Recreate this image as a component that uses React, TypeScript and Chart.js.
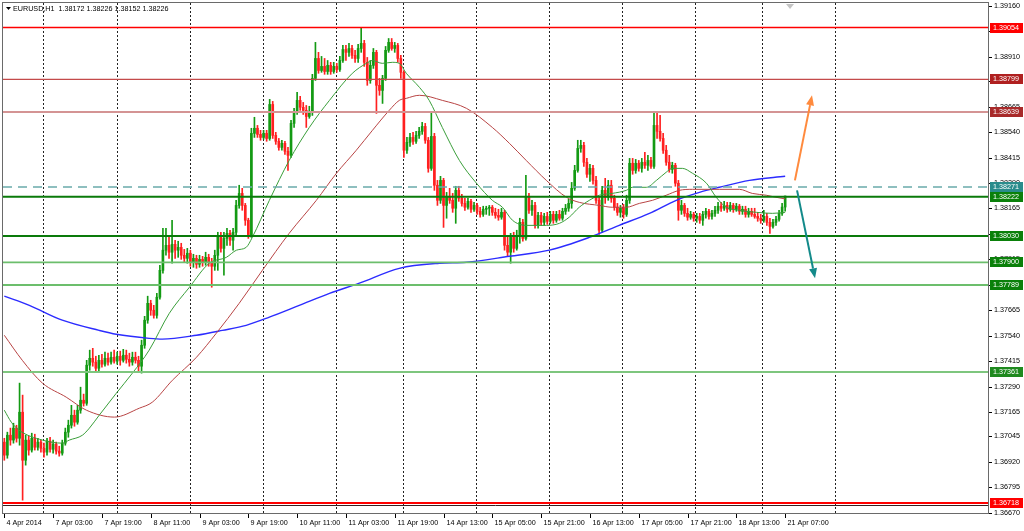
import React, { useEffect, useRef } from "react";
import { Chart, registerables } from "chart.js";

Chart.register(...registerables);

// ---- candle data (EURUSD H1), one entry per hourly bar ----
const opens = [
1.37017,1.36953,1.37051,1.37027,1.37086,1.37036,1.37164,1.36928,1.37027,1.36978,
1.37036,1.36992,1.37017,1.36987,1.36968,1.37022,1.36982,1.37007,1.36973,1.36963,
1.37012,1.37066,1.37100,1.37149,1.37115,1.37174,1.37223,1.37208,1.37395,1.37429,
1.37410,1.37380,1.37419,1.37400,1.37429,1.37410,1.37434,1.37415,1.37439,1.37419,
1.37444,1.37424,1.37410,1.37434,1.37419,1.37390,1.37493,1.37616,1.37699,1.37665,
1.37640,1.37729,1.37861,1.37960,1.37984,1.37950,1.37989,1.37960,1.37974,1.37935,
1.37920,1.37945,1.37901,1.37920,1.37891,1.37915,1.37901,1.37925,1.37901,1.37881,
1.37935,1.38033,1.37969,1.38018,1.38043,1.38009,1.38048,1.38180,1.38239,1.38180,
1.38107,1.38033,1.38534,1.38559,1.38529,1.38514,1.38534,1.38509,1.38676,1.38524,
1.38495,1.38465,1.38485,1.38446,1.38426,1.38583,1.38637,1.38696,1.38662,1.38647,
1.38617,1.38637,1.38804,1.38902,1.38843,1.38863,1.38838,1.38868,1.38838,1.38863,
1.38848,1.38892,1.38946,1.38932,1.38951,1.38917,1.38902,1.38951,1.38976,1.38883,
1.38794,1.38868,1.38932,1.38770,1.38745,1.38804,1.38942,1.38981,1.38951,1.38966,
1.38902,1.38834,1.38451,1.38490,1.38514,1.38495,1.38524,1.38544,1.38568,1.38500,
1.38362,1.38519,1.38279,1.38205,1.38303,1.38180,1.38225,1.38205,1.38166,1.38254,
1.38215,1.38190,1.38171,1.38200,1.38161,1.38180,1.38151,1.38136,1.38161,1.38166,
1.38171,1.38146,1.38131,1.38122,1.38146,1.37984,1.37950,1.38023,1.37969,1.38033,
1.38097,1.38018,1.38225,1.38156,1.38180,1.38082,1.38131,1.38097,1.38126,1.38102,
1.38136,1.38107,1.38136,1.38117,1.38151,1.38166,1.38190,1.38264,1.38352,1.38460,
1.38475,1.38392,1.38333,1.38362,1.38303,1.38205,1.38058,1.38254,1.38220,1.38279,
1.38215,1.38171,1.38146,1.38166,1.38136,1.38205,1.38387,1.38352,1.38387,1.38362,
1.38392,1.38377,1.38401,1.38372,1.38573,1.38544,1.38509,1.38451,1.38392,1.38357,
1.38377,1.38289,1.38156,1.38180,1.38141,1.38122,1.38136,1.38117,1.38126,1.38107,
1.38136,1.38151,1.38126,1.38141,1.38156,1.38176,1.38166,1.38180,1.38161,1.38180,
1.38161,1.38176,1.38151,1.38161,1.38136,1.38151,1.38136,1.38126,1.38117,1.38107,
1.38126,1.38097,1.38077,1.38097,1.38112,1.38141,1.38172
];
const highs = [
1.37036,1.37066,1.37086,1.37110,1.37100,1.37307,1.37248,1.37051,1.37046,1.37061,
1.37056,1.37036,1.37027,1.37012,1.37036,1.37041,1.37027,1.37017,1.36997,1.37027,
1.37086,1.37125,1.37198,1.37174,1.37198,1.37287,1.37253,1.37419,1.37469,1.37478,
1.37439,1.37444,1.37449,1.37459,1.37454,1.37459,1.37469,1.37459,1.37464,1.37473,
1.37469,1.37454,1.37459,1.37459,1.37439,1.37518,1.37635,1.37734,1.37714,1.37689,
1.37748,1.37886,1.38067,1.38067,1.38028,1.38107,1.38009,1.38004,1.37994,1.37964,
1.37969,1.37960,1.37940,1.37935,1.37935,1.37930,1.37950,1.37940,1.37920,1.37960,
1.38048,1.38048,1.38048,1.38068,1.38058,1.38068,1.38205,1.38279,1.38264,1.38190,
1.38117,1.38559,1.38613,1.38573,1.38549,1.38549,1.38549,1.38701,1.38691,1.38539,
1.38509,1.38500,1.38495,1.38465,1.38598,1.38657,1.38735,1.38716,1.38686,1.38671,
1.38667,1.38824,1.38981,1.38932,1.38912,1.38902,1.38892,1.38883,1.38883,1.38878,
1.38912,1.38966,1.38966,1.38976,1.38966,1.38942,1.38971,1.39050,1.38991,1.38907,
1.38892,1.38951,1.38942,1.38804,1.38819,1.38961,1.39000,1.39000,1.38981,1.38976,
1.38917,1.38843,1.38514,1.38534,1.38539,1.38544,1.38563,1.38588,1.38583,1.38514,
1.38637,1.38534,1.38303,1.38323,1.38313,1.38244,1.38264,1.38239,1.38274,1.38274,
1.38235,1.38215,1.38215,1.38210,1.38195,1.38190,1.38171,1.38176,1.38176,1.38180,
1.38180,1.38166,1.38161,1.38166,1.38156,1.38033,1.38043,1.38048,1.38058,1.38117,
1.38112,1.38328,1.38239,1.38205,1.38195,1.38146,1.38146,1.38141,1.38146,1.38151,
1.38151,1.38151,1.38156,1.38166,1.38185,1.38210,1.38293,1.38377,1.38500,1.38500,
1.38490,1.38411,1.38382,1.38377,1.38323,1.38220,1.38274,1.38313,1.38303,1.38303,
1.38230,1.38190,1.38180,1.38185,1.38230,1.38411,1.38411,1.38406,1.38401,1.38411,
1.38441,1.38426,1.38416,1.38637,1.38637,1.38622,1.38534,1.38475,1.38426,1.38392,
1.38387,1.38303,1.38205,1.38190,1.38166,1.38151,1.38146,1.38141,1.38141,1.38151,
1.38166,1.38161,1.38156,1.38176,1.38195,1.38195,1.38200,1.38195,1.38195,1.38190,
1.38190,1.38185,1.38176,1.38176,1.38166,1.38166,1.38166,1.38146,1.38136,1.38156,
1.38141,1.38117,1.38112,1.38126,1.38156,1.38190,1.38226
];
const lows = [
1.36928,1.36938,1.37002,1.37012,1.37017,1.37002,1.36732,1.36904,1.36953,1.36968,
1.36978,1.36978,1.36968,1.36943,1.36953,1.36968,1.36963,1.36958,1.36948,1.36953,
1.37002,1.37041,1.37086,1.37095,1.37105,1.37159,1.37194,1.37198,1.37370,1.37390,
1.37361,1.37365,1.37385,1.37390,1.37395,1.37400,1.37405,1.37400,1.37395,1.37410,
1.37405,1.37390,1.37395,1.37405,1.37361,1.37356,1.37478,1.37601,1.37640,1.37626,
1.37626,1.37719,1.37847,1.37935,1.37920,1.37896,1.37920,1.37925,1.37915,1.37901,
1.37896,1.37881,1.37876,1.37871,1.37876,1.37881,1.37886,1.37881,1.37778,1.37861,
1.37861,1.37950,1.37837,1.37984,1.37984,1.37960,1.38033,1.38166,1.38156,1.38082,
1.38018,1.38023,1.38514,1.38514,1.38500,1.38505,1.38495,1.38500,1.38509,1.38480,
1.38451,1.38451,1.38431,1.38352,1.38416,1.38563,1.38627,1.38647,1.38627,1.38563,
1.38608,1.38622,1.38794,1.38829,1.38834,1.38824,1.38824,1.38824,1.38829,1.38834,
1.38838,1.38883,1.38892,1.38912,1.38902,1.38883,1.38883,1.38932,1.38863,1.38770,
1.38780,1.38853,1.38632,1.38721,1.38681,1.38794,1.38932,1.38942,1.38932,1.38883,
1.38804,1.38416,1.38436,1.38470,1.38480,1.38485,1.38509,1.38529,1.38485,1.38343,
1.38352,1.38254,1.38180,1.38190,1.38072,1.38117,1.38190,1.38146,1.38092,1.38200,
1.38176,1.38156,1.38161,1.38146,1.38151,1.38136,1.38122,1.38126,1.38136,1.38131,
1.38131,1.38117,1.38107,1.38112,1.37960,1.37930,1.37896,1.37950,1.37960,1.37994,
1.38004,1.38009,1.38141,1.38131,1.38068,1.38068,1.38082,1.38082,1.38087,1.38092,
1.38092,1.38097,1.38107,1.38107,1.38136,1.38151,1.38166,1.38254,1.38343,1.38441,
1.38372,1.38318,1.38298,1.38284,1.38190,1.38038,1.38048,1.38190,1.38205,1.38195,
1.38156,1.38131,1.38122,1.38117,1.38126,1.38190,1.38333,1.38338,1.38348,1.38343,
1.38362,1.38352,1.38362,1.38362,1.38509,1.38495,1.38436,1.38377,1.38343,1.38338,
1.38274,1.38107,1.38136,1.38126,1.38107,1.38112,1.38102,1.38097,1.38092,1.38082,
1.38117,1.38112,1.38112,1.38126,1.38141,1.38151,1.38156,1.38146,1.38151,1.38146,
1.38151,1.38136,1.38136,1.38122,1.38122,1.38126,1.38117,1.38102,1.38092,1.38097,
1.38082,1.38043,1.38068,1.38082,1.38102,1.38131,1.38152
];
const closes = [
1.36953,1.37051,1.37027,1.37086,1.37036,1.37164,1.36928,1.37027,1.36978,1.37036,
1.36992,1.37017,1.36987,1.36968,1.37022,1.36982,1.37007,1.36973,1.36963,1.37012,
1.37066,1.37100,1.37149,1.37115,1.37174,1.37223,1.37208,1.37395,1.37429,1.37410,
1.37380,1.37419,1.37400,1.37429,1.37410,1.37434,1.37415,1.37439,1.37419,1.37444,
1.37424,1.37410,1.37434,1.37419,1.37390,1.37493,1.37616,1.37699,1.37665,1.37640,
1.37729,1.37861,1.37960,1.37984,1.37950,1.37989,1.37960,1.37974,1.37935,1.37920,
1.37945,1.37901,1.37920,1.37891,1.37915,1.37901,1.37925,1.37901,1.37881,1.37935,
1.38033,1.37969,1.38018,1.38043,1.38009,1.38048,1.38180,1.38239,1.38180,1.38107,
1.38033,1.38534,1.38559,1.38529,1.38514,1.38534,1.38509,1.38676,1.38524,1.38495,
1.38465,1.38485,1.38446,1.38426,1.38583,1.38637,1.38696,1.38662,1.38647,1.38617,
1.38637,1.38804,1.38902,1.38843,1.38863,1.38838,1.38868,1.38838,1.38863,1.38848,
1.38892,1.38946,1.38932,1.38951,1.38917,1.38902,1.38951,1.38976,1.38883,1.38794,
1.38868,1.38932,1.38770,1.38745,1.38804,1.38942,1.38981,1.38951,1.38966,1.38902,
1.38834,1.38451,1.38490,1.38514,1.38495,1.38524,1.38544,1.38568,1.38500,1.38362,
1.38519,1.38279,1.38205,1.38303,1.38180,1.38225,1.38205,1.38166,1.38254,1.38215,
1.38190,1.38171,1.38200,1.38161,1.38180,1.38151,1.38136,1.38161,1.38166,1.38171,
1.38146,1.38131,1.38122,1.38146,1.37984,1.37950,1.38023,1.37969,1.38033,1.38097,
1.38018,1.38225,1.38156,1.38180,1.38082,1.38131,1.38097,1.38126,1.38102,1.38136,
1.38107,1.38136,1.38117,1.38151,1.38166,1.38190,1.38264,1.38352,1.38460,1.38475,
1.38392,1.38333,1.38362,1.38303,1.38205,1.38058,1.38254,1.38220,1.38279,1.38215,
1.38171,1.38146,1.38166,1.38136,1.38205,1.38387,1.38352,1.38387,1.38362,1.38392,
1.38377,1.38401,1.38372,1.38573,1.38544,1.38509,1.38451,1.38392,1.38357,1.38377,
1.38289,1.38156,1.38180,1.38141,1.38122,1.38136,1.38117,1.38126,1.38107,1.38136,
1.38151,1.38126,1.38141,1.38156,1.38176,1.38166,1.38180,1.38161,1.38180,1.38161,
1.38176,1.38151,1.38161,1.38136,1.38151,1.38136,1.38126,1.38117,1.38107,1.38126,
1.38097,1.38077,1.38097,1.38112,1.38141,1.38172,1.38226
];

// ---- moving averages (read at sample bars) ----
const fastMaBars = [0,2.3,4.9,12.5,19,21.3,25.6,27.9,31.1,36.7,42,47.5,54.1,60.7,67.2,72.8,76.1,79.3,81.3,86.9,93.4,100,106.6,114.1,118.7,120.7,123.9,127.2,129.5,131.8,136.1,139.3,143.6,149.2,154.8,160,163.3,166.6,171.1,177.7,182,185.2,188.5,191.8,195.1,199.3,203.9,205.9,210.5,213.8,217,219,222.3,225.6,230.2,233.4,236.7,241,246.6,251.8,256];
const fastMaValues = [1.37174,1.37115,1.37075,1.37027,1.37012,1.37027,1.37051,1.37086,1.37149,1.37257,1.37356,1.37469,1.37650,1.37778,1.37896,1.37925,1.37960,1.37974,1.38023,1.38205,1.38401,1.38563,1.38696,1.38829,1.38878,1.38892,1.38878,1.38883,1.38878,1.38829,1.38760,1.38696,1.38563,1.38401,1.38289,1.38205,1.38171,1.38107,1.38082,1.38082,1.38092,1.38122,1.38171,1.38205,1.38230,1.38239,1.38254,1.38269,1.38269,1.38303,1.38343,1.38362,1.38362,1.38338,1.38289,1.38220,1.38171,1.38156,1.38146,1.38141,1.38146];
const midMaBars = [0,5.9,12.5,20.3,26.9,36.1,44.3,48.5,55.1,63,69.5,77,84.6,93.4,102.3,108.9,115.4,120.7,126.2,129.5,131.8,136.1,143.6,151.5,160,165.6,171.1,177.7,184.3,188.5,195.1,199.3,203.9,208.2,212.5,217,221.3,225.6,234.4,241,245.2,249.8,253,256];
const midMaValues = [1.37542,1.37419,1.37307,1.37238,1.37174,1.37140,1.37184,1.37213,1.37321,1.37434,1.37552,1.37699,1.37861,1.38043,1.38205,1.38338,1.38451,1.38549,1.38647,1.38696,1.38706,1.38721,1.38696,1.38657,1.38563,1.38485,1.38401,1.38303,1.38220,1.38195,1.38180,1.38171,1.38171,1.38190,1.38205,1.38230,1.38254,1.38259,1.38259,1.38259,1.38239,1.38230,1.38220,1.38212];
const slowMaBars = [0,8.2,19,31.1,36.7,47.5,51.8,63,71.5,79.3,86.9,96.7,106.6,116.4,129.5,142.6,151.5,165.6,178.7,191.8,201.6,211.5,220.3,227.9,234.4,244.3,256];
const slowMaValues = [1.37734,1.37689,1.37616,1.37566,1.37547,1.37527,1.37523,1.37542,1.37566,1.37591,1.37631,1.37689,1.37748,1.37798,1.37871,1.37896,1.37901,1.37930,1.37960,1.38023,1.38082,1.38141,1.38205,1.38244,1.38269,1.38303,1.38323];

// ---- axes ----
const timeLabels = ["4 Apr 2014","7 Apr 03:00","7 Apr 19:00","8 Apr 11:00","9 Apr 03:00","9 Apr 19:00","10 Apr 11:00","11 Apr 03:00","11 Apr 19:00","14 Apr 13:00","15 Apr 05:00","15 Apr 21:00","16 Apr 13:00","17 Apr 05:00","17 Apr 21:00","18 Apr 13:00","21 Apr 07:00"];
const barsPerLabel = 16;
const priceTicks = [1.39160,1.39035,1.38910,1.38790,1.38665,1.38540,1.38415,1.38290,1.38165,1.38040,1.37915,1.37790,1.37665,1.37540,1.37415,1.37290,1.37165,1.37045,1.36920,1.36795,1.36670];
const dayGridBars = [12.7,36.8,60.8,84.9,108.7,130.7,154.8,178.5,202.5,226.4,248.4,272.3];

// ---- drawn objects ----
const levelPrices = [1.39054,1.38799,1.38639,1.38271,1.38222,1.38030,1.37900,1.37789,1.37361,1.36718];
const upArrow = { from: [259.2, 1.38303], to: [264.8, 1.38721] };
const downArrow = { from: [259.9, 1.38254], to: [265.8, 1.37822] };
const titleText = "EURUSD,H1  1.38172 1.38226 1.38152 1.38226";
const shiftMarkerBar = 257.6;

// ---- styles ----
const levelStyles = [
  { line: "#ff0000", width: 1.5, dash: [], box: "#ff0000" },
  { line: "#c44a4a", width: 1.2, dash: [], box: "#b02020" },
  { line: "#d49494", width: 2, dash: [], box: "#a82a2a" },
  { line: "#6aaaaa", width: 1.5, dash: [9, 6], box: "#2a8c8c" },
  { line: "#0a7a0a", width: 2, dash: [], box: "#0a800a" },
  { line: "#0a7a0a", width: 2, dash: [], box: "#0a800a" },
  { line: "#6cbe6c", width: 1.8, dash: [], box: "#0a800a" },
  { line: "#6cbe6c", width: 1.8, dash: [], box: "#0a800a" },
  { line: "#7ec67e", width: 2, dash: [], box: "#1f8a1f" },
  { line: "#ff0000", width: 2, dash: [], box: "#ff0000" },
];
const UP = "#139a13";
const DOWN = "#ff2020";
const FONT = '7.2px "Liberation Sans", Arial, sans-serif';
const fmt = (v: number) => v.toFixed(5);

const decor = {
  id: "mt4decor",
  beforeDatasetsDraw(chart: any) {
    const { ctx, chartArea: a, scales } = chart;
    const x = scales.x;
    ctx.save();
    ctx.strokeStyle = "#222222";
    ctx.lineWidth = 1;
    ctx.setLineDash([2, 2]);
    for (const b of dayGridBars) {
      const px = Math.round(x.getPixelForValue(b)) + 0.5;
      if (px < a.left || px > a.right) continue;
      ctx.beginPath();
      ctx.moveTo(px, a.top);
      ctx.lineTo(px, a.bottom);
      ctx.stroke();
    }
    ctx.restore();
  },
  afterDatasetsDraw(chart: any) {
    const { ctx, chartArea: a, scales } = chart;
    const x = scales.x, y = scales.y;
    ctx.save();
    ctx.beginPath();
    ctx.rect(a.left, a.top, a.right - a.left, a.bottom - a.top);
    ctx.clip();
    levelPrices.forEach((p, i) => {
      const s = levelStyles[i];
      const py = y.getPixelForValue(p);
      ctx.strokeStyle = s.line;
      ctx.lineWidth = s.width;
      ctx.setLineDash(s.dash);
      ctx.beginPath();
      ctx.moveTo(a.left, py);
      ctx.lineTo(a.right, py);
      ctx.stroke();
      if (i === levelPrices.length - 1) {
        ctx.strokeStyle = "#3a2020";
        ctx.lineWidth = 1;
        ctx.beginPath();
        ctx.moveTo(a.left, Math.round(py) + 2.5);
        ctx.lineTo(a.right, Math.round(py) + 2.5);
        ctx.stroke();
      }
    });
    ctx.setLineDash([]);
    const arrow = (ar: any, color: string) => {
      const x1 = x.getPixelForValue(ar.from[0]), y1 = y.getPixelForValue(ar.from[1]);
      const x2 = x.getPixelForValue(ar.to[0]), y2 = y.getPixelForValue(ar.to[1]);
      const ang = Math.atan2(y2 - y1, x2 - x1);
      const len = 10, hw = 4;
      const bx = x2 - Math.cos(ang) * len, by = y2 - Math.sin(ang) * len;
      ctx.strokeStyle = color;
      ctx.lineWidth = 2;
      ctx.beginPath();
      ctx.moveTo(x1, y1);
      ctx.lineTo(bx, by);
      ctx.stroke();
      ctx.fillStyle = color;
      ctx.beginPath();
      ctx.moveTo(x2, y2);
      ctx.lineTo(bx + Math.sin(ang) * hw, by - Math.cos(ang) * hw);
      ctx.lineTo(bx - Math.sin(ang) * hw, by + Math.cos(ang) * hw);
      ctx.closePath();
      ctx.fill();
    };
    arrow(upArrow, "#ff8a3d");
    arrow(downArrow, "#138a8a");
    ctx.restore();
  },
  afterDraw(chart: any) {
    const { ctx, chartArea: a, scales } = chart;
    const x = scales.x, y = scales.y;
    ctx.save();
    // frame
    ctx.strokeStyle = "#6a6a6a";
    ctx.lineWidth = 1;
    ctx.strokeRect(a.left - 0.5, a.top - 0.5, a.right - a.left + 1, a.bottom - a.top + 1);
    ctx.font = FONT;
    ctx.textBaseline = "middle";
    ctx.textAlign = "left";
    // price axis
    ctx.fillStyle = "#000";
    ctx.strokeStyle = "#000";
    for (const t of priceTicks) {
      const py = Math.round(y.getPixelForValue(t)) + 0.5;
      ctx.beginPath();
      ctx.moveTo(a.right + 1, py);
      ctx.lineTo(a.right + 4, py);
      ctx.stroke();
      ctx.fillText(fmt(t), a.right + 6, py);
    }
    // level boxes
    levelPrices.forEach((p, i) => {
      const py = Math.round(y.getPixelForValue(p));
      ctx.fillStyle = levelStyles[i].box;
      ctx.fillRect(a.right + 2, py - 5, 33, 10);
      ctx.fillStyle = "#ffffff";
      ctx.fillText(fmt(p), a.right + 5, py + 0.5);
    });
    // time axis
    ctx.fillStyle = "#000";
    ctx.strokeStyle = "#000";
    timeLabels.forEach((lab, k) => {
      const px = Math.round(x.getPixelForValue(k * barsPerLabel)) + 0.5;
      ctx.beginPath();
      ctx.moveTo(px, a.bottom + 1);
      ctx.lineTo(px, a.bottom + 5);
      ctx.stroke();
      ctx.fillText(lab, px + 2, a.bottom + 10);
    });
    // title
    ctx.fillStyle = "#000";
    ctx.beginPath();
    ctx.moveTo(6, 7);
    ctx.lineTo(11, 7);
    ctx.lineTo(8.5, 10);
    ctx.closePath();
    ctx.fill();
    ctx.fillText(titleText, 13, 9);
    // chart shift marker
    const sx = x.getPixelForValue(shiftMarkerBar);
    ctx.fillStyle = "#c4c4c4";
    ctx.beginPath();
    ctx.moveTo(sx - 4, a.top + 1);
    ctx.lineTo(sx + 4, a.top + 1);
    ctx.lineTo(sx, a.top + 6);
    ctx.closePath();
    ctx.fill();
    ctx.restore();
  },
};

export default function App() {
  const ref = useRef<HTMLCanvasElement | null>(null);
  useEffect(() => {
    document.body.style.margin = "0";
    document.body.style.background = "#ffffff";
    const canvas = ref.current;
    if (!canvas) return;
    const colors = closes.map((c, i) => (c >= opens[i] ? UP : DOWN));
    const wickData = closes.map((_, i) => ({ x: i, y: [lows[i], highs[i]] }));
    const bodyData = closes.map((c, i) => ({ x: i, y: [opens[i], c] }));
    const toPts = (xs: number[], ys: number[]) => xs.map((v, i) => ({ x: v, y: ys[i] }));
    const chart = new Chart(canvas, {
      type: "bar",
      data: {
        datasets: [
          {
            type: "line",
            label: "MA fast",
            data: toPts(fastMaBars, fastMaValues),
            borderColor: "#3a9e3a",
            borderWidth: 1,
            pointRadius: 0,
            cubicInterpolationMode: "monotone",
            order: 0,
          } as any,
          {
            type: "line",
            label: "MA mid",
            data: toPts(midMaBars, midMaValues),
            borderColor: "#b84444",
            borderWidth: 1,
            pointRadius: 0,
            cubicInterpolationMode: "monotone",
            order: 0,
          } as any,
          {
            type: "line",
            label: "MA slow",
            data: toPts(slowMaBars, slowMaValues),
            borderColor: "#2c2cff",
            borderWidth: 1.4,
            pointRadius: 0,
            cubicInterpolationMode: "monotone",
            order: 0,
          } as any,
          {
            type: "bar",
            label: "body",
            data: bodyData,
            backgroundColor: colors,
            borderWidth: 0,
            barThickness: 2,
            minBarLength: 1,
            grouped: false,
            order: 1,
          } as any,
          {
            type: "bar",
            label: "wick",
            data: wickData,
            backgroundColor: colors,
            borderWidth: 0,
            barThickness: 1,
            grouped: false,
            order: 2,
          } as any,
        ],
      },
      options: {
        animation: false,
        responsive: false,
        devicePixelRatio: 1,
        events: [],
        layout: { padding: { left: 3, top: 3, right: 36, bottom: 18 } },
        plugins: { legend: { display: false }, tooltip: { enabled: false } },
        scales: {
          x: { type: "linear", min: -0.43, max: 322.5, offset: false, display: false, grid: { display: false } },
          y: { type: "linear", min: 1.366689, max: 1.391744, beginAtZero: false, display: false, grid: { display: false } },
        },
      } as any,
      plugins: [decor],
    });
    return () => chart.destroy();
  }, []);
  return <canvas ref={ref} width={1024} height={531} style={{ display: "block" }} />;
}
